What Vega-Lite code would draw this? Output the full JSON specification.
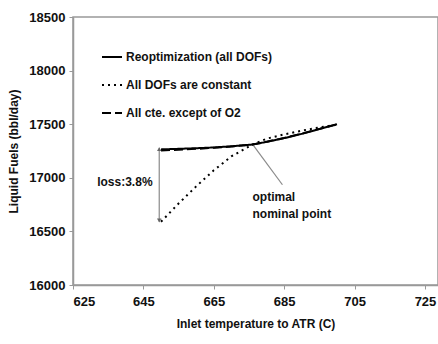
{
  "$schema": "https://vega.github.io/schema/vega-lite/v6.json",
  "width": 365,
  "height": 268,
  "autosize": "none",
  "padding": {"left": 73, "top": 17, "right": 0, "bottom": 59},
  "background": "white",
  "config": {
    "font": "Liberation Sans",
    "view": {"stroke": "#999999", "strokeWidth": 1.5},
    "axis": {
      "grid": false,
      "domainColor": "#999999",
      "domainWidth": 1.5,
      "tickColor": "#999999",
      "tickSize": 4,
      "labelFont": "Liberation Sans",
      "labelFontWeight": "bold",
      "labelFontSize": 13,
      "labelColor": "#111111",
      "titleFont": "Liberation Sans",
      "titleFontWeight": "bold",
      "titleFontSize": 12,
      "titleColor": "#111111"
    }
  },
  "datasets": {
    "curves": [
      {"T": 650, "F": 17265, "series": "Reoptimization (all DOFs)"},
      {"T": 655, "F": 17270, "series": "Reoptimization (all DOFs)"},
      {"T": 660, "F": 17276, "series": "Reoptimization (all DOFs)"},
      {"T": 665, "F": 17283, "series": "Reoptimization (all DOFs)"},
      {"T": 670, "F": 17294, "series": "Reoptimization (all DOFs)"},
      {"T": 676, "F": 17310, "series": "Reoptimization (all DOFs)"},
      {"T": 680, "F": 17335, "series": "Reoptimization (all DOFs)"},
      {"T": 685, "F": 17370, "series": "Reoptimization (all DOFs)"},
      {"T": 690, "F": 17410, "series": "Reoptimization (all DOFs)"},
      {"T": 695, "F": 17455, "series": "Reoptimization (all DOFs)"},
      {"T": 700, "F": 17500, "series": "Reoptimization (all DOFs)"},
      {"T": 650, "F": 16590, "series": "All DOFs are constant"},
      {"T": 655, "F": 16760, "series": "All DOFs are constant"},
      {"T": 660, "F": 16920, "series": "All DOFs are constant"},
      {"T": 665, "F": 17070, "series": "All DOFs are constant"},
      {"T": 670, "F": 17200, "series": "All DOFs are constant"},
      {"T": 676, "F": 17310, "series": "All DOFs are constant"},
      {"T": 680, "F": 17365, "series": "All DOFs are constant"},
      {"T": 685, "F": 17405, "series": "All DOFs are constant"},
      {"T": 690, "F": 17440, "series": "All DOFs are constant"},
      {"T": 695, "F": 17470, "series": "All DOFs are constant"},
      {"T": 700, "F": 17495, "series": "All DOFs are constant"},
      {"T": 650, "F": 17255, "series": "All cte. except of O2"},
      {"T": 655, "F": 17262, "series": "All cte. except of O2"},
      {"T": 660, "F": 17270, "series": "All cte. except of O2"},
      {"T": 665, "F": 17280, "series": "All cte. except of O2"},
      {"T": 670, "F": 17292, "series": "All cte. except of O2"},
      {"T": 676, "F": 17310, "series": "All cte. except of O2"},
      {"T": 680, "F": 17337, "series": "All cte. except of O2"},
      {"T": 685, "F": 17372, "series": "All cte. except of O2"},
      {"T": 690, "F": 17412, "series": "All cte. except of O2"},
      {"T": 695, "F": 17456, "series": "All cte. except of O2"},
      {"T": 700, "F": 17500, "series": "All cte. except of O2"}
    ],
    "lossArrow": [
      {"T": 649.5, "F": 16590, "T2": 649.5, "F2": 17280}
    ],
    "arrowTop": [
      {"T": 649.5, "F": 17268}
    ],
    "arrowBottom": [
      {"T": 649.5, "F": 16602}
    ],
    "pointer": [
      {"T": 676.3, "F": 17300, "T2": 684.5, "F2": 16935}
    ],
    "labelsRight": [
      {"T": 647.6, "F": 16964, "text": "loss:3.8%"}
    ],
    "labelsLeft": [
      {"T": 676, "F": 16821, "text": "optimal"},
      {"T": 676, "F": 16662, "text": "nominal point"}
    ]
  },
  "layer": [
    {
      "data": {"name": "lossArrow"},
      "mark": {"type": "rule", "color": "#8a8a8a", "strokeWidth": 1.2},
      "encoding": {
        "x": {"field": "T", "type": "quantitative"},
        "y": {"field": "F", "type": "quantitative"},
        "x2": {"field": "T2"},
        "y2": {"field": "F2"}
      }
    },
    {
      "data": {"name": "pointer"},
      "mark": {"type": "rule", "color": "#8a8a8a", "strokeWidth": 1.2},
      "encoding": {
        "x": {"field": "T", "type": "quantitative"},
        "y": {"field": "F", "type": "quantitative"},
        "x2": {"field": "T2"},
        "y2": {"field": "F2"}
      }
    },
    {
      "data": {"name": "curves"},
      "mark": {"type": "line", "color": "black", "strokeWidth": 2},
      "encoding": {
        "x": {
          "field": "T", "type": "quantitative",
          "scale": {"domain": [625, 728.7], "nice": false, "zero": false},
          "axis": {"values": [625, 645, 665, 685, 705, 725], "format": "d", "title": "Inlet temperature to ATR (C)", "titlePadding": 10, "labelPadding": 6}
        },
        "y": {
          "field": "F", "type": "quantitative",
          "scale": {"domain": [16000, 18500], "nice": false, "zero": false},
          "axis": {"values": [16000, 16500, 17000, 17500, 18000, 18500], "format": "d", "title": "Liquid Fuels (bbl/day)", "titlePadding": 8, "labelPadding": 4}
        },
        "detail": {"field": "series"},
        "strokeDash": {
          "field": "series", "type": "nominal",
          "scale": {
            "domain": ["Reoptimization (all DOFs)", "All DOFs are constant", "All cte. except of O2"],
            "range": [[1, 0], [2, 4], [9, 4]]
          },
          "legend": {
            "title": null,
            "orient": "none",
            "legendX": 28,
            "legendY": 29,
            "symbolType": "stroke",
            "symbolSize": 400,
            "symbolStrokeWidth": 2,
            "symbolStrokeColor": "black",
            "labelFont": "Liberation Sans",
            "labelFontWeight": "bold",
            "labelFontSize": 12,
            "labelColor": "#111111",
            "labelOffset": 3,
            "rowPadding": 11
          }
        }
      }
    },
    {
      "data": {"name": "arrowTop"},
      "mark": {"type": "point", "shape": "triangle-up", "filled": true, "color": "#666666", "size": 20, "opacity": 1},
      "encoding": {
        "x": {"field": "T", "type": "quantitative"},
        "y": {"field": "F", "type": "quantitative"}
      }
    },
    {
      "data": {"name": "arrowBottom"},
      "mark": {"type": "point", "shape": "triangle-down", "filled": true, "color": "#666666", "size": 20, "opacity": 1},
      "encoding": {
        "x": {"field": "T", "type": "quantitative"},
        "y": {"field": "F", "type": "quantitative"}
      }
    },
    {
      "data": {"name": "labelsRight"},
      "mark": {"type": "text", "align": "right", "baseline": "middle", "font": "Liberation Sans", "fontWeight": "bold", "fontSize": 12, "color": "#111111"},
      "encoding": {
        "x": {"field": "T", "type": "quantitative"},
        "y": {"field": "F", "type": "quantitative"},
        "text": {"field": "text"}
      }
    },
    {
      "data": {"name": "labelsLeft"},
      "mark": {"type": "text", "align": "left", "baseline": "middle", "font": "Liberation Sans", "fontWeight": "bold", "fontSize": 12, "color": "#111111"},
      "encoding": {
        "x": {"field": "T", "type": "quantitative"},
        "y": {"field": "F", "type": "quantitative"},
        "text": {"field": "text"}
      }
    }
  ]
}
